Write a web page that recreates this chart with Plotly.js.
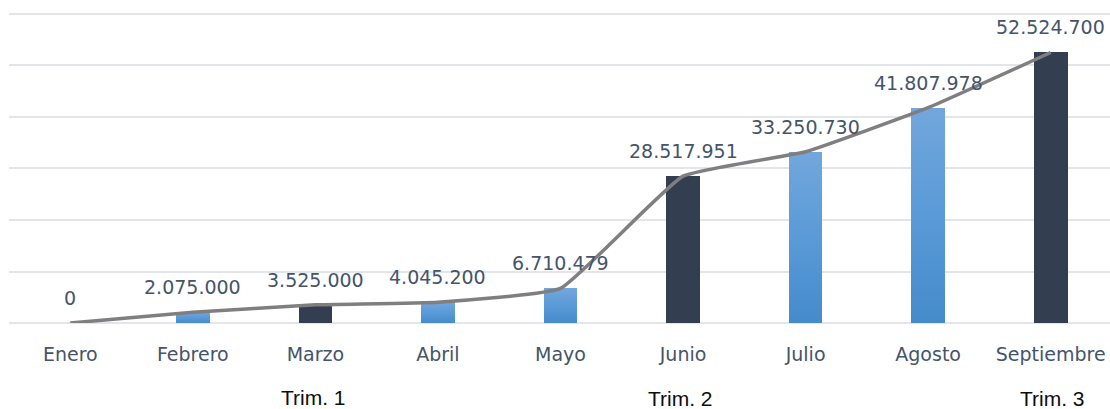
<!DOCTYPE html>
<html>
<head>
<meta charset="utf-8">
<script src="https://cdn.plot.ly/plotly-3.0.1.min.js"></script>
<style>
html,body{margin:0;padding:0;background:#fff;}
#chart{width:1110px;height:409px;}
</style>
</head>
<body>
<div id="chart"></div>
<script>
const months = ["Enero","Febrero","Marzo","Abril","Mayo","Junio","Julio","Agosto","Septiembre"];
const values = [0, 2075000, 3525000, 4045200, 6710479, 28517951, 33250730, 41807978, 52524700];
const valueLabels = ["0","2.075.000","3.525.000","4.045.200","6.710.479","28.517.951","33.250.730","41.807.978","52.524.700"];
const quarterEnd = [false,false,true,false,false,true,false,false,true];
const quarterLabels = ["Trim. 1","Trim. 2","Trim. 3"];
const quarterMonthIdx = [2,5,8];
const gridVals = [10000000, 20000000, 30000000, 40000000, 50000000, 60000000];

const navy = "#333f50";
const lightBlue = "#5a9ad6";
const barColors = quarterEnd.map(q => q ? navy : lightBlue);

const bars = {
  type: "bar",
  x: months,
  y: values,
  width: 0.275,
  marker: {color: barColors, line: {width: 0}},
  hoverinfo: "skip",
  showlegend: false
};
const line = {
  type: "scatter",
  mode: "lines",
  x: months,
  y: values,
  line: {color: "#7f7f7f", width: 3.5, shape: "spline", smoothing: 0.35},
  hoverinfo: "skip",
  showlegend: false
};

const annotations = months.map((m, i) => ({
  x: m, y: values[i], xref: "x", yref: "y",
  text: valueLabels[i], showarrow: false,
  yshift: 25,
  font: {family: "DejaVu Sans, sans-serif", size: 19, color: "#44546a"}
}));
const quarterShift = [-74, -75, -75];
const quarterDx = [-2, -3, 2];
quarterLabels.forEach((t, k) => {
  annotations.push({
    x: months[quarterMonthIdx[k]], y: 0, xref: "x", yref: "paper",
    text: t, showarrow: false, yanchor: "middle",
    yshift: quarterShift[k], xshift: quarterDx[k],
    font: {family: "Liberation Sans, Arial, sans-serif", size: 21, color: "#0d0d0d"}
  });
});

const layout = {
  width: 1110, height: 409,
  margin: {l: 9, r: 0, t: 11, b: 86},
  paper_bgcolor: "#ffffff",
  plot_bgcolor: "#ffffff",
  bargap: 0,
  xaxis: {
    type: "category",
    range: [-0.5, 8.484],
    showgrid: false, zeroline: false, showline: false,
    ticks: "", ticklen: 0,
    ticklabelstandoff: 18,
    tickfont: {family: "DejaVu Sans, sans-serif", size: 19, color: "#44546a"},
    automargin: false
  },
  yaxis: {
    range: [0, 60580000],
    tickvals: gridVals,
    showticklabels: false,
    showgrid: true, gridcolor: "#e2e5ea", gridwidth: 2,
    zeroline: true, zerolinecolor: "#e2e5ea", zerolinewidth: 2,
    showline: false, ticks: "",
    automargin: false
  },
  annotations: annotations
};

Plotly.newPlot("chart", [bars, line], layout, {staticPlot: true, displayModeBar: false}).then(gd => {
  const svg = gd.querySelector("svg.main-svg");
  const ns = "http://www.w3.org/2000/svg";
  let defs = svg.querySelector("defs");
  if (!defs) { defs = document.createElementNS(ns, "defs"); svg.insertBefore(defs, svg.firstChild); }
  const grad = document.createElementNS(ns, "linearGradient");
  grad.setAttribute("id", "barGrad");
  grad.setAttribute("x1", "0"); grad.setAttribute("y1", "0");
  grad.setAttribute("x2", "0"); grad.setAttribute("y2", "1");
  [["0%","#72a7dc"],["50%","#5a9ad8"],["100%","#458bca"]].forEach(([o,c]) => {
    const s = document.createElementNS(ns, "stop");
    s.setAttribute("offset", o); s.setAttribute("stop-color", c);
    grad.appendChild(s);
  });
  defs.appendChild(grad);
  const paths = gd.querySelectorAll(".barlayer .point path");
  paths.forEach((p, i) => {
    if (!quarterEnd[i]) p.style.fill = "url(#barGrad)";
  });
});
</script>
</body>
</html>
